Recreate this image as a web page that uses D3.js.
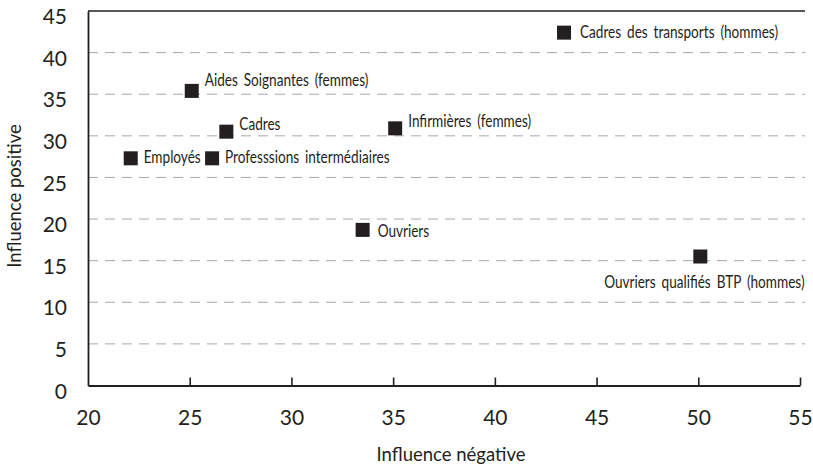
<!DOCTYPE html>
<html>
<head>
<meta charset="utf-8">
<script src="https://cdn.jsdelivr.net/npm/d3@7"></script>
<style>
  body { margin: 0; background: #fff; }
  svg { display: block; }
  .tick text { font-family: Lato, "Open Sans", sans-serif; fill: #231f20; }
  .lbl { font-family: Lato, "Open Sans", sans-serif; font-size: 17px; word-spacing: 3px; fill: #231f20; }
  .title { font-family: Lato, "Open Sans", sans-serif; font-size: 18.5px; fill: #231f20; }
</style>
</head>
<body>
<svg id="chart" width="813" height="467"></svg>
<script>
// groupes professionnels
const names = ["Cadres des transports (hommes)", "Aides Soignantes (femmes)", "Cadres",
               "Employés", "Professsions intermédiaires", "Infirmières (femmes)",
               "Ouvriers", "Ouvriers qualifiés BTP (hommes)"];
const negValues = [43.4, 25.1, 26.8, 22.1, 26.1, 35.1, 33.5, 50.1];
const posValues = [42.4, 35.4, 30.5, 27.3, 27.3, 30.9, 18.7, 15.5];
const xTicks = [20, 25, 30, 35, 40, 45, 50, 55];
const yTicks = [0, 5, 10, 15, 20, 25, 30, 35, 40, 45];

const svg = d3.select("#chart");
const mLeft = 88, mRight = 800, mTop = 11, mBottom = 385.5;
const ink = "#231f20";

var x = d3.scaleLinear().domain([20, 55]).range([mLeft, mRight]);
var y = d3.scaleLinear().domain([0, 45]).range([mBottom, mTop]);

// grille pointillée
svg.append("g")
    .selectAll("line")
    .data(yTicks.filter(d => d > 0 && d < 45))
    .enter().append("line")
    .attr("x1", mLeft).attr("x2", mRight + 5)
    .attr("y1", d => y(d)).attr("y2", d => y(d))
    .attr("stroke", "#a7a9ac")
    .attr("stroke-width", 1)
    .attr("stroke-dasharray", "10,7");

// cadre haut
svg.append("line")
    .attr("x1", mLeft).attr("x2", mRight + 5)
    .attr("y1", y(45)).attr("y2", y(45))
    .attr("stroke", ink).attr("stroke-width", 1.6);

var xAxis = d3.axisBottom(x)
    .tickValues(xTicks)
    .tickSizeInner(-8)
    .tickSizeOuter(0)
    .tickPadding(25);

var gX = svg.append("g")
    .attr("transform", "translate(0," + mBottom + ")")
    .call(xAxis);
gX.select(".domain").attr("stroke", ink).attr("stroke-width", 1.8);
gX.selectAll(".tick line").attr("stroke", ink).attr("stroke-width", 1.6);
gX.selectAll(".tick").filter(d => d === 20).select("line").remove();
gX.selectAll(".tick text").style("font-size", "21px").attr("fill", ink);

var yAxis = d3.axisLeft(y)
    .tickValues(yTicks)
    .tickSize(0)
    .tickPadding(21);

var gY = svg.append("g")
    .attr("transform", "translate(" + mLeft + ",0)")
    .call(yAxis);
gY.select(".domain").attr("stroke", ink).attr("stroke-width", 1.8);
gY.selectAll(".tick text").style("font-size", "21px").attr("fill", ink)
    .attr("dy", "0.6em");

// titres des axes
svg.append("text")
    .attr("class", "title")
    .attr("x", 451).attr("y", 461)
    .attr("text-anchor", "middle")
    .text("Influence négative");

svg.append("text")
    .attr("class", "title")
    .attr("transform", "translate(21,196) rotate(-90)")
    .attr("text-anchor", "middle")
    .text("Influence positive");

// points
const sq = 14;
const data = names.map((n, i) => ({name: n, neg: negValues[i], pos: posValues[i]}));

svg.append("g")
    .selectAll("rect")
    .data(data)
    .enter().append("rect")
    .attr("x", d => x(d.neg) - sq / 2)
    .attr("y", d => y(d.pos) - sq / 2)
    .attr("width", sq).attr("height", sq)
    .attr("fill", ink);

// décalage des étiquettes (police étroite simulée par un scale horizontal)
const labelDx = [16, 13, 13, 13, 13, 13, 15, 4];
const labelDy = [5, -5, -2, 5, 5, -1, 7, 31];

svg.append("g")
    .selectAll("g")
    .data(data)
    .enter().append("g")
    .attr("transform", (d, i) => "translate(" + (x(d.neg) + labelDx[i]) + "," + (y(d.pos) + labelDy[i]) + ") scale(0.8,1)")
    .append("text")
    .attr("class", "lbl")
    .attr("text-anchor", (d, i) => i === 7 ? "middle" : "start")
    .text(d => d.name);
</script>
</body>
</html>
